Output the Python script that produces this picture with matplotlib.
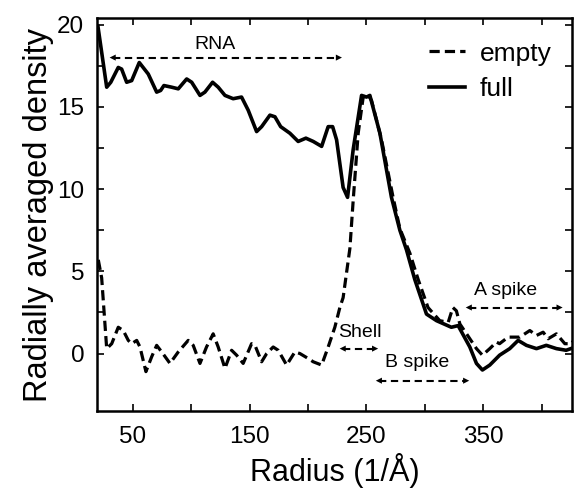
import matplotlib
matplotlib.use("Agg")
import matplotlib.pyplot as plt

plt.rcParams['font.family'] = ['Liberation Sans', 'DejaVu Sans']

# radial density profiles
x_full = [20, 27.5, 31, 37.4, 40.3, 44.6, 48.9, 55.4, 63.1, 70.3,
          73.7, 76.5, 83.1, 88.8, 96, 100.3, 107.4, 111.6, 118.2, 123,
          128.8, 135.8, 143, 148.7, 155.9, 160.2, 167.3, 171.6, 176.5, 184.4,
          191.5, 198.1, 204.4, 211.6, 217.2, 221, 224.4, 230, 233.8, 238.6,
          245.8, 250, 252.9, 261.5, 271.4, 278.6, 284.3, 291.4, 301.4, 310,
          322.7, 328.5, 338.5, 344.2, 349.3, 355.6, 364, 372.7, 379.9, 387,
          395.6, 404, 412.7, 421, 429]
y_full = [19.9, 16.2, 16.5, 17.4, 17.3, 16.5, 16.6, 17.7, 17.0, 15.9,
          16.0, 16.3, 16.2, 16.1, 16.7, 16.5, 15.7, 15.9, 16.5, 16.2,
          15.7, 15.5, 15.6, 14.8, 13.5, 13.8, 14.5, 14.4, 13.8, 13.4,
          12.9, 13.1, 12.9, 12.6, 13.8, 13.8, 13.0, 10.1, 9.5, 12.4,
          15.7, 15.6, 15.7, 13.4, 9.5, 7.5, 6.3, 4.5, 2.4, 2.0,
          1.6, 1.7, 0.4, -0.6, -1.0, -0.7, -0.1, 0.3, 0.8, 0.5,
          0.3, 0.5, 0.3, 0.2, 0.4]

x_empty = [20.3, 23.2, 27.5, 31.8, 37.4, 41.7, 46, 48.9, 53.2, 56,
           61.1, 66, 70.3, 74.6, 81.7, 88.8, 97.3, 101.6, 107.4, 113,
           118.7, 123, 128.8, 134.5, 138.8, 144.4, 151.6, 154.5, 160.2, 164.5,
           170.1, 174.4, 181.6, 188.7, 193, 200.1, 204.4, 211.6, 217.2, 222.9,
           227.2, 230, 235.8, 238.6, 242.9, 247.2, 251.4, 254.3, 262.9, 272.8,
           278.6, 287.2, 294.3, 302.7, 312.8, 320, 324, 327, 330, 335.7,
           344.2, 349.3, 355.6, 361.3, 364, 371.3, 375.6, 381.3, 389.9, 395.6,
           401.3, 405.6, 412.7, 419.9, 425.6, 429.3]
y_empty = [5.7, 4.6, 0.3, 0.6, 1.6, 1.4, 0.8, 0.6, 0.8, 0.4,
           -1.1, -0.2, 0.5, 0.1, -0.6, 0.1, 0.8, 0.5, -0.6, 0.4,
           1.2, 0.4, -0.9, 0.2, -0.1, -0.6, 0.6, 0.5, -0.5, 0.0,
           0.4, 0.2, -0.7, 0.1, 0.0, -0.3, -0.5, -0.7, 0.4, 1.6,
           2.8, 3.4, 6.4, 9.3, 13.4, 15.6, 15.7, 15.4, 13.0, 9.5,
           7.6, 6.1, 4.5, 2.8, 2.0, 1.9, 2.8, 2.6, 1.8, 1.2,
           0.3, -0.1, 0.3, 0.7, 0.6, 1.0, 1.0, 1.0, 1.4, 1.1,
           1.3, 0.9, 1.2, 0.6, 0.6, 1.0]

# region labels: (text, text x, text y, arrow start, arrow end, arrow y)
regions = [
    ("RNA", 120, 18.8, 30, 229, 18.0),
    ("Shell", 244, 1.3, 227, 260, 0.3),
    ("B spike", 293, -0.55, 258, 338, -1.65),
    ("A spike", 369, 3.85, 335, 418, 2.8),
]

xticks = [50, 100, 150, 200, 250, 300, 350, 400]
xticklabels = ["50", "", "150", "", "250", "", "350", ""]
yticks = [0, 2.5, 5, 7.5, 10, 12.5, 15, 17.5, 20]
yticklabels = ["0", "", "5", "", "10", "", "15", "", "20"]

fig = plt.figure(figsize=(5.76, 4.9), dpi=100)
ax = fig.add_axes([0.168, 0.161, 0.825, 0.802])

ax.plot(x_empty, y_empty, color='black', lw=2.3, dashes=(3.2, 1.6), label='empty')
ax.plot(x_full, y_full, color='black', lw=2.6, label='full')

for text, tx, ty, x0, x1, ya in regions:
    ax.text(tx, ty, text, fontsize=14, ha='center', va='center')
    ax.plot([x0 + 3, x1 - 3], [ya, ya], color='black', lw=1.5, dashes=(3.5, 2.2))
    for tip, tail in [(x0, x0 + 6), (x1, x1 - 6)]:
        ax.annotate('', xy=(tip, ya), xytext=(tail, ya),
                    arrowprops=dict(arrowstyle='-|>', color='black', lw=0,
                                    mutation_scale=11, shrinkA=0, shrinkB=0))

ax.set_xlim(19, 426)
ax.set_ylim(-3.5, 20.4)
ax.set_xticks(xticks)
ax.set_xticklabels(xticklabels)
ax.set_yticks(yticks)
ax.set_yticklabels(yticklabels)
ax.tick_params(direction='in', top=True, right=True, length=5, width=1.2,
               labelsize=17.5)
ax.tick_params(axis='x', pad=11)
ax.tick_params(axis='y', pad=9)
for sp in ax.spines.values():
    sp.set_linewidth(1.8)

ax.set_xlabel("Radius (1/Å)", fontsize=22, labelpad=3)
ax.set_ylabel("Radially averaged density", fontsize=23.5, labelpad=2)

ax.legend(loc='upper left', bbox_to_anchor=(0.70, 0.94), frameon=False,
          fontsize=19, handlelength=1.35, handletextpad=0.55,
          labelspacing=0.42, borderpad=0, borderaxespad=0)

fig.savefig("out.png", dpi=100)
